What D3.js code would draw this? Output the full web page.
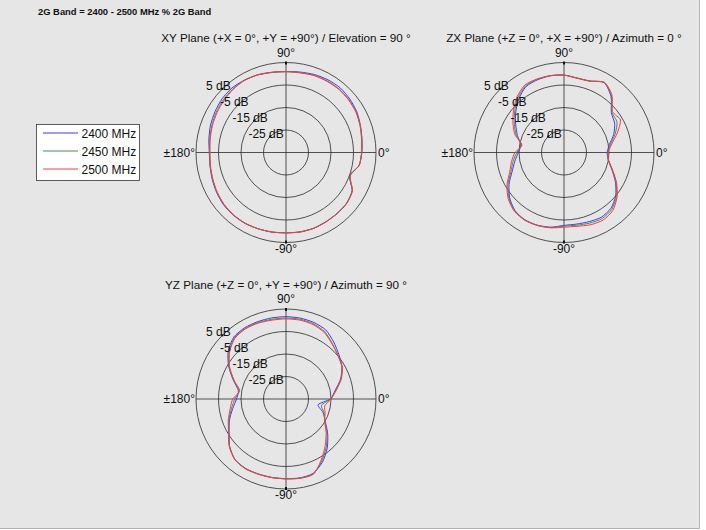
<!DOCTYPE html>
<html>
<head>
<meta charset="utf-8">
<script src="https://cdn.jsdelivr.net/npm/d3@7"></script>
<style>
  body { margin: 0; background: #fff; }
  svg { display: block; font-family: "Liberation Sans", Arial, sans-serif; }
</style>
</head>
<body>
<div id="chart"></div>
<script>
// angles in degrees, counter-clockwise from +axis (0°)
const angles = [0, 10, 20, 30, 40, 50, 60, 70, 80, 90, 100, 110, 120, 130, 140, 150, 160, 170,
  180, 190, 200, 210, 220, 230, 240, 250, 260, 270, 280, 290, 300, 310, 320, 330, 340, 350];

const freqs = ["2400 MHz", "2450 MHz", "2500 MHz"];
const ringTicks = [-25, -15, -5, 5];

// gain in dB
const xy2400 = [-1.3, -0.7, 0.2, 1.3, 2.0, 2.5, 2.3, 1.9, 1.3, 1.0, 1.2, 1.7, 2.1, 2.4, 2.1, 1.4, 0.7, -0.2,
  -0.9, -0.7, -0.1, 0.6, 1.2, 1.4, 1.4, 1.1, 0.9, 0.7, 0.8, 0.8, 0.5, 0.3, 0.1, -1.1, -4.9, -2.0];
const xy2450 = [-1.4, -0.8, 0.1, 1.0, 1.5, 1.8, 1.7, 1.5, 1.0, 0.9, 1.1, 1.7, 2.0, 1.8, 1.4, 0.8, 0.1, -0.6,
  -1.1, -0.8, -0.3, 0.4, 1.0, 1.3, 1.3, 1.1, 0.9, 0.7, 0.9, 0.9, 0.6, 0.4, 0.2, -1.0, -4.7, -2.0];
const xy2500 = [-1.4, -0.9, 0.0, 0.9, 1.3, 1.6, 1.5, 1.4, 1.0, 0.9, 1.2, 1.8, 2.0, 1.6, 1.0, 0.4, -0.2, -0.8,
  -1.2, -0.9, -0.4, 0.3, 0.9, 1.2, 1.3, 1.1, 0.9, 0.7, 0.9, 0.9, 0.6, 0.4, 0.2, -0.9, -4.6, -2.0];

const zx2400 = [-15.8, -14.5, -11.5, -9.0, -7.5, -2.5, 0.8, -1.2, -1.4, -0.6, -0.4, -0.6, -1.2, -3.8, -7.0, -10.2, -13.0, -15.5,
  -14.7, -12.8, -10.5, -6.8, -3.5, -1.2, -0.4, -0.6, -1.3, -2.6, -2.7, -2.3, -1.8, -2.6, -5.0, -8.6, -12.3, -15.0];
const zx2450 = [-15.5, -14.0, -10.8, -7.8, -7.2, -2.2, 0.9, -1.2, -1.4, -0.6, -0.3, -0.4, -0.8, -3.2, -6.4, -9.5, -12.4, -15.8,
  -14.0, -12.0, -9.9, -6.2, -3.1, -1.0, -0.3, -0.5, -1.1, -2.3, -2.2, -1.6, -1.1, -2.0, -4.6, -8.3, -12.1, -14.9];
const zx2500 = [-15.3, -13.5, -9.8, -6.0, -6.8, -1.8, 1.0, -1.3, -1.5, -0.6, -0.3, -0.2, -0.3, -2.6, -5.7, -8.8, -11.8, -16.0,
  -13.2, -11.3, -9.3, -5.7, -2.7, -0.8, -0.2, -0.5, -1.0, -1.8, -1.7, -0.8, -0.3, -1.3, -4.2, -8.0, -12.0, -14.8];

const yz2400 = [-15.3, -12.8, -9.2, -6.3, -4.3, -2.0, 0.4, 1.2, 1.5, 1.6, 1.6, 1.6, 1.6, 1.0, -1.5, -5.5, -10.0, -13.5,
  -13.0, -11.0, -8.3, -5.8, -2.3, 0.2, 0.7, 0.5, 0.4, 0.4, 0.6, 0.2, -2.6, -6.5, -10.8, -14.8, -17.5, -20.5];
const yz2450 = [-15.1, -12.5, -9.0, -6.3, -4.9, -2.9, -0.5, 0.6, 1.0, 1.0, 1.0, 1.2, 1.2, 0.6, -2.0, -5.8, -10.2, -13.8,
  -12.2, -10.4, -8.0, -5.6, -2.2, 0.2, 0.8, 0.6, 0.5, 0.5, 0.7, 0.4, -3.2, -7.2, -11.2, -15.0, -17.0, -19.0];
const yz2500 = [-15.0, -12.3, -8.8, -6.2, -4.8, -3.1, -0.9, 0.2, 0.6, 0.6, 0.6, 0.9, 1.0, 0.3, -2.3, -6.0, -10.4, -14.1,
  -11.3, -9.8, -7.7, -5.5, -2.1, 0.3, 0.9, 0.6, 0.5, 0.5, 0.8, 0.6, -3.7, -7.9, -11.7, -15.2, -16.5, -17.5];

const colors = ["#3a3aff", "#4d8a5c", "#ff3a3a"];

const planes = [
  { title: "XY Plane (+X = 0°, +Y = +90°) / Elevation = 90 °", cx: 286, cy: 152.5, titleY: 42, series: [xy2400, xy2450, xy2500] },
  { title: "ZX Plane (+Z = 0°, +X = +90°) / Azimuth = 0 °", cx: 564, cy: 152.5, titleY: 42, series: [zx2400, zx2450, zx2500] },
  { title: "YZ Plane (+Z = 0°, +Y = +90°) / Azimuth = 90 °", cx: 286, cy: 399, titleY: 289, series: [yz2400, yz2450, yz2500] },
];

const W = 706, H = 530, R = 90;

const svg = d3.select("#chart").append("svg").attr("width", W).attr("height", H);

svg.append("rect").attr("x", 0).attr("y", 0).attr("width", 700).attr("height", 529).attr("fill", "#e6e6e6");
svg.append("path").attr("d", "M699.5,0V528.5H0").attr("fill", "none").attr("stroke", "#b4b4b4").attr("stroke-width", 1);

svg.append("text")
  .attr("x", 38).attr("y", 15)
  .attr("font-size", 9.4).attr("font-weight", "bold").attr("fill", "#111")
  .text("2G Band = 2400 - 2500 MHz % 2G Band");

const rScale = d3.scaleLinear().domain([-35, 5]).range([0, R]);
const toRad = (deg) => (90 - deg) * Math.PI / 180;

const radial = d3.lineRadial()
  .angle((d, i) => toRad(angles[i]))
  .radius((d) => rScale(d))
  .curve(d3.curveCardinalClosed.tension(0.3));

planes.forEach((p) => {
  svg.append("text")
    .attr("x", p.cx).attr("y", p.titleY)
    .attr("text-anchor", "middle").attr("font-size", 11.7).attr("fill", "#111")
    .text(p.title);

  const g = svg.append("g").attr("transform", `translate(${p.cx},${p.cy})`);

  g.selectAll("circle.ring").data(ringTicks).join("circle")
    .attr("class", "ring")
    .attr("r", (d) => rScale(d))
    .attr("fill", "none").attr("stroke", "#2a2a2a").attr("stroke-width", 0.8);

  g.append("line").attr("x1", -R).attr("x2", R).attr("y1", 0).attr("y2", 0)
    .attr("stroke", "#2a2a2a").attr("stroke-width", 0.8);
  g.append("line").attr("x1", 0).attr("x2", 0).attr("y1", -R).attr("y2", R)
    .attr("stroke", "#2a2a2a").attr("stroke-width", 0.8);

  // small end ticks
  g.append("rect").attr("x", -1).attr("y", -R - 1).attr("width", 2).attr("height", 3).attr("fill", "#111");
  g.append("rect").attr("x", -1).attr("y", R - 2).attr("width", 2).attr("height", 3).attr("fill", "#111");

  p.series.forEach((vals, i) => {
    g.append("path")
      .attr("d", radial(vals))
      .attr("fill", "none")
      .attr("stroke", colors[i])
      .attr("stroke-width", 1);
  });

  // ring labels along 135°
  ringTicks.forEach((t) => {
    const a = 135 * Math.PI / 180;
    const x = rScale(t) * Math.cos(a), y = -rScale(t) * Math.sin(a);
    g.append("rect").attr("x", x - 1).attr("y", y - 1).attr("width", 2).attr("height", 2).attr("fill", "#111");
    g.append("text").attr("x", x - 4).attr("y", y + 1)
      .attr("text-anchor", "middle").attr("font-size", 12).attr("fill", "#111")
      .text(`${t} dB`);
  });

  g.append("text").attr("x", 0).attr("y", -R - 6).attr("text-anchor", "middle").attr("font-size", 12).attr("fill", "#111").text("90°");
  g.append("text").attr("x", 0).attr("y", R + 10).attr("text-anchor", "middle").attr("font-size", 12).attr("fill", "#111").text("-90°");
  g.append("text").attr("x", -R - 1).attr("y", 4).attr("text-anchor", "end").attr("font-size", 12).attr("fill", "#111").text("±180°");
  g.append("text").attr("x", R + 2).attr("y", 4).attr("text-anchor", "start").attr("font-size", 12).attr("fill", "#111").text("0°");
});

// legend
const legend = svg.append("g").attr("transform", "translate(36.5,124.5)");
legend.append("rect").attr("width", 103).attr("height", 56)
  .attr("fill", "#fff").attr("stroke", "#333").attr("stroke-width", 0.8);
freqs.forEach((f, i) => {
  const y = 8.5 + i * 18;
  legend.append("line").attr("x1", 6.5).attr("x2", 41.5).attr("y1", y).attr("y2", y)
    .attr("stroke", colors[i]).attr("stroke-width", 1);
  legend.append("text").attr("x", 45).attr("y", y + 4.5)
    .attr("font-size", 12).attr("fill", "#111").text(f);
});
</script>
</body>
</html>
